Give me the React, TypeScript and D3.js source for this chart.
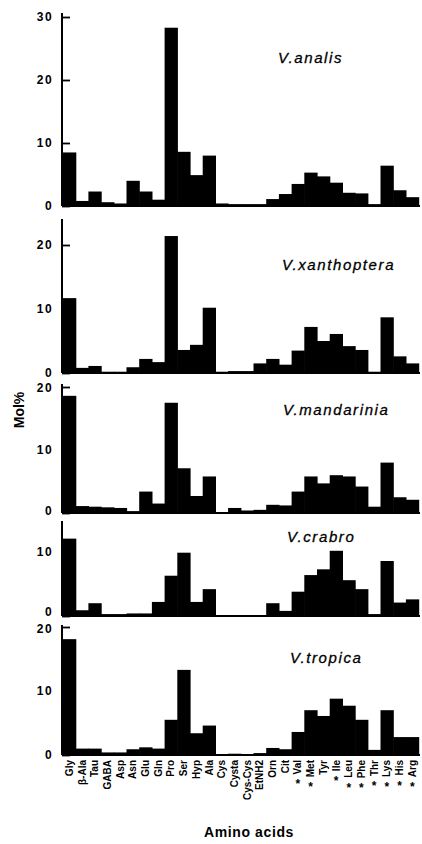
import React, { useRef, useEffect } from 'react';
import * as d3 from 'd3';

// amino acid order along the x axis (starred = essential)
const aminoAcids = [
  'Gly', 'β-Ala', 'Tau', 'GABA', 'Asp', 'Asn', 'Glu', 'Gln', 'Pro', 'Ser', 'Hyp', 'Ala',
  'Cys', 'Cysta', 'Cys-Cys', 'EtNH2', 'Orn', 'Cit', 'Val', 'Met', 'Tyr', 'Ile', 'Leu',
  'Phe', 'Thr', 'Lys', 'His', 'Arg',
];
const essentialAcids = ['Val', 'Met', 'Ile', 'Leu', 'Phe', 'Thr', 'Lys', 'His', 'Arg'];

const speciesNames = ['V.analis', 'V.xanthoptera', 'V.mandarinia', 'V.crabro', 'V.tropica'];

const analisValues = [8.5, 0.8, 2.3, 0.6, 0.4, 4.0, 2.3, 1.0, 28.3, 8.6, 4.9, 8.0, 0.4, 0.3, 0.3, 0.3, 1.1, 1.9, 3.5, 5.3, 4.7, 3.7, 2.1, 2.0, 0.3, 6.4, 2.5, 1.4];
const xanthopteraValues = [11.7, 0.8, 1.1, 0.2, 0.2, 0.9, 2.2, 1.7, 21.4, 3.6, 4.4, 10.2, 0.2, 0.3, 0.3, 1.5, 2.2, 1.3, 3.5, 7.2, 5.0, 6.1, 4.2, 3.6, 0.2, 8.7, 2.6, 1.5];
const mandariniaValues = [18.6, 1.1, 1.0, 0.9, 0.8, 0.3, 3.4, 1.5, 17.5, 7.1, 2.7, 5.8, 0.1, 0.8, 0.4, 0.5, 1.3, 1.2, 3.4, 5.8, 4.7, 6.0, 5.8, 4.2, 1.0, 8.0, 2.5, 2.1];
const crabroValues = [12.1, 0.9, 2.0, 0.3, 0.3, 0.4, 0.4, 2.2, 6.3, 9.9, 2.2, 4.2, 0.1, 0.1, 0.1, 0.1, 2.0, 0.8, 3.8, 6.4, 7.3, 10.2, 5.6, 4.2, 0.3, 8.6, 2.1, 2.6];
const tropicaValues = [18.1, 1.0, 1.0, 0.4, 0.4, 0.9, 1.2, 1.0, 5.5, 13.3, 3.4, 4.6, 0.1, 0.2, 0.1, 0.3, 1.1, 0.9, 3.6, 7.0, 6.1, 8.8, 7.7, 5.5, 0.8, 7.0, 2.8, 2.8];

const seriesValues = [analisValues, xanthopteraValues, mandariniaValues, crabroValues, tropicaValues];

const yTickValues = [[0, 10, 20, 30], [0, 10, 20], [0, 10, 20], [0, 10], [0, 10, 20]];
const yMaxValues = [30, 24, 20, 14.7, 20];

// panel placement on the page (tickShift nudges the end tick labels apart)
const panelFrames = [
  { bottom: 206, top: 17, axisTop: 13, labelX: 278, labelY: 63, lowShift: 0, highShift: 0 },
  { bottom: 373, top: 219.4, axisTop: 219, labelX: 282, labelY: 270, lowShift: 0, highShift: 0 },
  { bottom: 513, top: 387, axisTop: 384, labelX: 283, labelY: 415, lowShift: -2, highShift: 1 },
  { bottom: 616, top: 522, axisTop: 521, labelX: 287, labelY: 542, lowShift: -4, highShift: 0 },
  { bottom: 755, top: 627, axisTop: 625, labelX: 290, labelY: 663, lowShift: 0, highShift: 2 },
];

const FONT = '"Liberation Sans", Arial, sans-serif';

const App = () => {
  const ref = useRef<SVGSVGElement>(null);

  useEffect(() => {
    const width = 422;
    const height = 844;
    const svg = d3.select(ref.current)
      .attr('width', width)
      .attr('height', height)
      .style('background-color', 'white');

    svg.selectAll('*').remove();

    const axisX = 62;
    const xScale = d3.scaleBand().domain(aminoAcids).range([63, 418.6]).padding(0);

    seriesValues.forEach((values, i) => {
      const frame = panelFrames[i];
      const yScale = d3.scaleLinear().domain([0, yMaxValues[i]]).range([frame.bottom, frame.top]);
      const panel = svg.append('g');

      // bars
      panel.append('g')
        .selectAll('rect')
        .data(values)
        .enter()
        .append('rect')
        .attr('x', (d, j) => xScale(aminoAcids[j]) as number)
        .attr('width', xScale.bandwidth() + 0.6)
        .attr('y', d => yScale(d))
        .attr('height', d => frame.bottom - yScale(d))
        .style('fill', 'black');

      // baseline
      panel.append('line')
        .attr('x1', axisX).attr('x2', 420)
        .attr('y1', frame.bottom).attr('y2', frame.bottom)
        .style('stroke', 'black').style('stroke-width', 2);

      // y axis line
      panel.append('line')
        .attr('x1', axisX).attr('x2', axisX)
        .attr('y1', frame.bottom).attr('y2', frame.axisTop)
        .style('stroke', 'black').style('stroke-width', 2);

      const ticks = yTickValues[i];
      const yAxis = d3.axisLeft(yScale)
        .tickValues(ticks)
        .tickSize(-8)
        .tickSizeOuter(0)
        .tickPadding(9)
        .tickFormat(d3.format('d'));

      const yAxisGroup = panel.append('g').attr('transform', `translate(${axisX}, 0)`);
      yAxisGroup.call(yAxis);
      yAxisGroup.select('.domain').remove();
      yAxisGroup.selectAll('line').style('stroke', 'black').style('stroke-width', 1.8);
      yAxisGroup.selectAll('text')
        .attr('y', (d: any) => {
          if (d === ticks[0]) return frame.lowShift;
          if (d === ticks[ticks.length - 1]) return frame.highShift;
          return 0;
        })
        .style('font-family', FONT)
        .style('font-size', '12px')
        .style('font-weight', 'bold')
        .style('letter-spacing', '1.4px')
        .style('fill', 'black');

      // species label
      panel.append('text')
        .attr('x', frame.labelX)
        .attr('y', frame.labelY)
        .style('font-family', FONT)
        .style('font-size', '15px')
        .style('font-style', 'italic')
        .style('letter-spacing', '1.6px')
        .style('stroke', 'black')
        .style('stroke-width', 0.3)
        .text(speciesNames[i]);
    });

    // x tick labels, rotated
    const labelTop = 760;
    const xLabels = svg.append('g');
    aminoAcids.forEach(name => {
      const cx = (xScale(name) as number) + xScale.bandwidth() / 2;
      const t = xLabels.append('text')
        .attr('transform', `translate(${cx + 3.5}, ${labelTop}) rotate(-90)`)
        .attr('text-anchor', 'end')
        .style('font-family', FONT)
        .style('font-size', '10px')
        .style('font-weight', 'bold')
        .text(name);
      if (essentialAcids.includes(name)) {
        const len = (t.node() as SVGTextElement).getComputedTextLength();
        xLabels.append('text')
          .attr('x', cx)
          .attr('y', labelTop + len + 14)
          .attr('text-anchor', 'middle')
          .style('font-family', FONT)
          .style('font-size', '12px')
          .style('font-weight', 'bold')
          .text('*');
      }
    });

    // X label
    svg.append('text')
      .attr('x', 249)
      .attr('y', 837)
      .attr('text-anchor', 'middle')
      .style('font-family', FONT)
      .style('font-size', '14px')
      .style('font-weight', 'bold')
      .style('letter-spacing', '0.6px')
      .text('Amino acids');

    // Y label
    svg.append('g').attr('transform', 'translate(24, 410)').append('text')
      .attr('transform', 'rotate(-90)')
      .attr('text-anchor', 'middle')
      .style('font-family', FONT)
      .style('font-size', '14px')
      .style('font-weight', 'bold')
      .text('Mol%');
  }, []);

  return (
    <div style={{ position: 'absolute', left: 0, top: 0 }}>
      <svg ref={ref}></svg>
    </div>
  );
};

export default App;
